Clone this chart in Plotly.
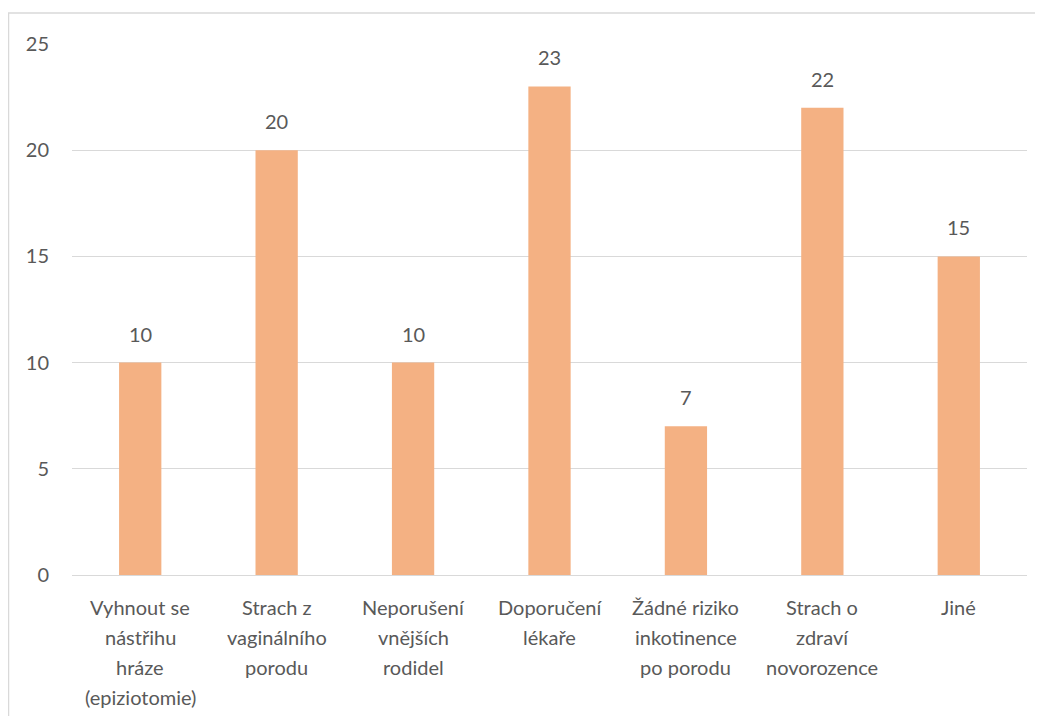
import plotly.graph_objects as go

categories = ["Vyhnout se<br>nástřihu<br>hráze<br>(epiziotomie)",
              "Strach z<br>vaginálního<br>porodu",
              "Neporušení<br>vnějších<br>rodidel",
              "Doporučení<br>lékaře",
              "Žádné riziko<br>inkotinence<br>po porodu",
              "Strach o<br>zdraví<br>novorozence",
              "Jiné"]
values = [10, 20, 10, 23, 7, 22, 15]
y_ticks = [0, 5, 10, 15, 20, 25]

FONT = "Lato"
TXT = "#595959"
W, H = 1043, 716
L, R, T, B = 64, 24, 36, 149

fig = go.Figure()
fig.add_trace(go.Bar(x=list(range(len(categories))), y=values,
                     marker=dict(color="#F4B183", line=dict(width=0)),
                     width=0.31, hoverinfo="skip"))

annotations = []
for i, (c, v) in enumerate(zip(categories, values)):
    annotations.append(dict(x=i, y=v, xref="x", yref="y", text=str(v), showarrow=False,
                            yanchor="middle", yshift=29,
                            font=dict(family=FONT, size=20, color=TXT)))
    for j, line in enumerate(c.split("<br>")):
        annotations.append(dict(x=i, y=0, xref="x", yref="y", text=line, showarrow=False,
                                yanchor="middle", yshift=-(32 + 30 * j),
                                font=dict(family=FONT, size=20, color=TXT)))

pw, ph = W - L - R, H - T - B
fig.update_layout(
    width=W, height=H, autosize=False,
    margin=dict(l=L, r=R, t=T, b=B, pad=0),
    paper_bgcolor="white", plot_bgcolor="white",
    showlegend=False,
    annotations=annotations,
    shapes=[dict(type="rect", xref="paper", yref="paper",
                 x0=(0.5 - L) / pw, x1=(W + 20 - L) / pw,
                 y0=-(B + 20) / ph, y1=(H - B - 5) / ph,
                 line=dict(color="#D9D9D9", width=1.5), fillcolor="rgba(0,0,0,0)", layer="below")],
    xaxis=dict(range=[-0.5, len(categories) - 0.5], showticklabels=False, showgrid=False,
               zeroline=False, showline=False, ticks=""),
    yaxis=dict(range=[0, 25], tickvals=y_ticks, showgrid=True, gridcolor="#D9D9D9", gridwidth=1.3,
               zeroline=True, zerolinecolor="#D9D9D9", zerolinewidth=1.3, showline=False, ticks="",
               tickfont=dict(family=FONT, size=20, color=TXT), ticklabelstandoff=22),
)
fig.write_html("out.html")
